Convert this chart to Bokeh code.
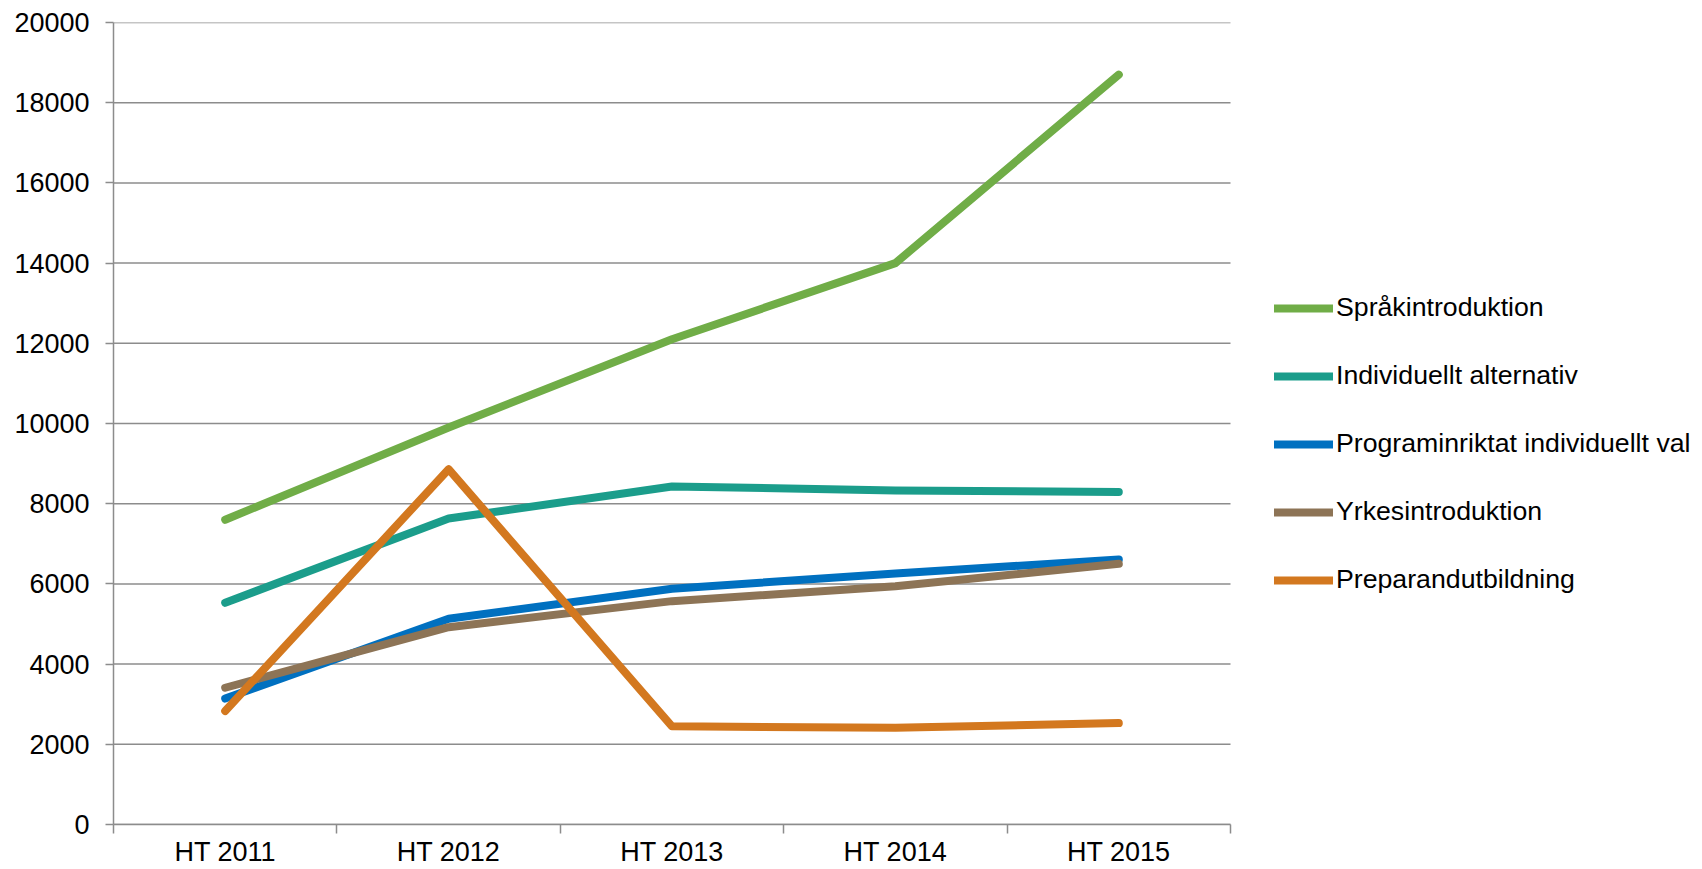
from bokeh.plotting import figure
from bokeh.models import Range1d, FixedTicker, Legend, LegendItem
from bokeh.embed import file_html
from bokeh.resources import INLINE

categories = ["HT 2011", "HT 2012", "HT 2013", "HT 2014", "HT 2015"]
series_names = ["Språkintroduktion", "Individuellt alternativ",
                "Programinriktat individuellt val", "Yrkesintroduktion",
                "Preparandutbildning"]
sprak = [7600, 9900, 12100, 14000, 18700]
individuellt = [5530, 7630, 8430, 8330, 8290]
programinriktat = [3140, 5130, 5880, 6260, 6610]
yrkes = [3410, 4920, 5570, 5940, 6500]
preparand = [2830, 8860, 2450, 2410, 2530]
colors = ["#70AD47", "#1B9D8B", "#0070C0", "#8D7456", "#D3781F"]
y_ticks = list(range(0, 20001, 2000))

FONT = "Liberation Sans"
FSIZE = "27px"
LSIZE = "26.7px"
GRID = "#8C8C8C"

W, H = 1702, 869
LEFT, PLOT_RIGHT = 113, 1230          # pixel extent of the category area
n = len(categories)
x_end = n * (W - LEFT) / (PLOT_RIGHT - LEFT)   # frame extends under the legend

p = figure(width=W, height=H, output_backend="svg", toolbar_location=None,
           x_range=Range1d(0, x_end), y_range=Range1d(0, 20000),
           min_border_left=LEFT, min_border_right=0, min_border_top=22,
           min_border_bottom=45)
p.outline_line_color = None
p.background_fill_color = "white"
p.border_fill_color = "white"

# horizontal gridlines limited to the category area
p.xgrid.grid_line_color = None
p.ygrid.grid_line_color = None
p.segment(x0=[0] * len(y_ticks), x1=[n] * len(y_ticks), y0=y_ticks, y1=y_ticks,
          line_color=GRID, line_width=1.5)

xs = [i + 0.5 for i in range(n)]
data = [sprak, individuellt, programinriktat, yrkes, preparand]
renderers = []
for name, vals, col in zip(series_names, data, colors):
    r = p.line(xs, vals, line_color=col, line_width=8, line_cap="round",
               line_join="round")
    renderers.append((name, r))

# x axis
p.xaxis.bounds = (0, n)
p.xaxis.ticker = FixedTicker(ticks=xs, minor_ticks=list(range(n + 1)))
p.xaxis.major_label_overrides = {x: c for x, c in zip(xs, categories)}
p.xaxis.major_tick_out = 0
p.xaxis.major_tick_in = 0
p.xaxis.minor_tick_out = 9
p.xaxis.minor_tick_in = 0
p.xaxis.minor_tick_line_color = GRID
p.xaxis.minor_tick_line_width = 1.5
p.xaxis.major_label_standoff = 3

# y axis
p.yaxis.ticker = FixedTicker(ticks=y_ticks)
p.yaxis.major_tick_out = 8
p.yaxis.major_tick_in = 0
p.yaxis.minor_tick_line_color = None
p.yaxis.major_label_standoff = 16

for ax in (p.xaxis, p.yaxis):
    ax.axis_line_color = GRID
    ax.axis_line_width = 1.5
    ax.major_tick_line_color = GRID
    ax.major_tick_line_width = 1.5
    ax.major_label_text_font = FONT
    ax.major_label_text_font_size = FSIZE
    ax.major_label_text_color = "black"

legend = Legend(items=[LegendItem(label=nm, renderers=[r]) for nm, r in renderers],
                location=(1161, 229))
legend.glyph_width = 59
legend.glyph_height = 30
legend.label_height = 30
legend.label_standoff = 3
legend.spacing = 37
legend.padding = 0
legend.margin = 0
legend.border_line_color = None
legend.background_fill_alpha = 0
legend.label_text_font = FONT
legend.label_text_font_size = LSIZE
legend.label_text_color = "black"
p.add_layout(legend)

open("out.html", "w").write(file_html(p, INLINE))
